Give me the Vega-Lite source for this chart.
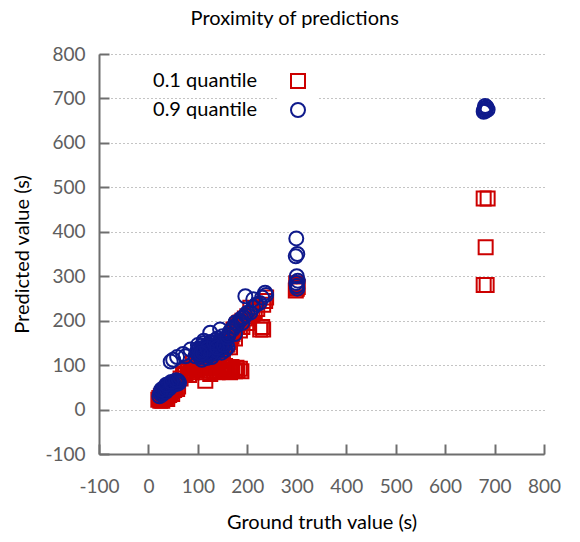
{
  "$schema": "https://vega.github.io/schema/vega-lite/v6.json",
  "autosize": "none",
  "width": 445,
  "height": 400,
  "padding": {"left": 99, "top": 54, "right": 36, "bottom": 88},
  "title": {"text": "Proximity of predictions", "anchor": "middle", "frame": "bounds", "fontSize": 20, "fontWeight": "normal", "color": "#000000", "offset": 16, "dx": 8},
  "config": {
    "font": "Lato",
    "view": {"stroke": null},
    "axis": {
      "domainColor": "#6e6e6e", "domainWidth": 2,
      "tickColor": "#6e6e6e", "tickWidth": 2, "tickSize": -10,
      "labelColor": "#5e5e5e", "labelFontSize": 19, "labelOverlap": false, "labelFlush": false,
      "labelExpr": "'' + datum.value",
      "titleColor": "#000000", "titleFontSize": 20, "titleFontWeight": "normal"
    }
  },
  "data": {"values": [
    {"truth":20,"pred":22,"series":"0.1 quantile"},{"truth":22,"pred":26,"series":"0.1 quantile"},{"truth":24,"pred":20,"series":"0.1 quantile"},{"truth":25,"pred":30,"series":"0.1 quantile"},{"truth":27,"pred":24,"series":"0.1 quantile"},{"truth":28,"pred":32,"series":"0.1 quantile"},{"truth":30,"pred":27,"series":"0.1 quantile"},{"truth":30,"pred":35,"series":"0.1 quantile"},{"truth":32,"pred":30,"series":"0.1 quantile"},{"truth":33,"pred":38,"series":"0.1 quantile"},{"truth":35,"pred":26,"series":"0.1 quantile"},{"truth":35,"pred":33,"series":"0.1 quantile"},{"truth":37,"pred":40,"series":"0.1 quantile"},{"truth":38,"pred":30,"series":"0.1 quantile"},{"truth":40,"pred":36,"series":"0.1 quantile"},{"truth":40,"pred":44,"series":"0.1 quantile"},{"truth":42,"pred":33,"series":"0.1 quantile"},{"truth":43,"pred":40,"series":"0.1 quantile"},{"truth":45,"pred":38,"series":"0.1 quantile"},{"truth":45,"pred":46,"series":"0.1 quantile"},{"truth":48,"pred":42,"series":"0.1 quantile"},{"truth":50,"pred":48,"series":"0.1 quantile"},{"truth":52,"pred":44,"series":"0.1 quantile"},{"truth":55,"pred":50,"series":"0.1 quantile"},{"truth":58,"pred":46,"series":"0.1 quantile"},{"truth":60,"pred":52,"series":"0.1 quantile"},{"truth":28,"pred":20,"series":"0.1 quantile"},{"truth":38,"pred":24,"series":"0.1 quantile"},{"truth":48,"pred":35,"series":"0.1 quantile"},
    {"truth":65,"pred":70,"series":"0.1 quantile"},{"truth":70,"pred":78,"series":"0.1 quantile"},{"truth":72,"pred":85,"series":"0.1 quantile"},{"truth":75,"pred":80,"series":"0.1 quantile"},{"truth":80,"pred":88,"series":"0.1 quantile"},{"truth":82,"pred":78,"series":"0.1 quantile"},{"truth":85,"pred":92,"series":"0.1 quantile"},{"truth":88,"pred":84,"series":"0.1 quantile"},{"truth":90,"pred":96,"series":"0.1 quantile"},{"truth":92,"pred":88,"series":"0.1 quantile"},{"truth":95,"pred":100,"series":"0.1 quantile"},{"truth":98,"pred":90,"series":"0.1 quantile"},{"truth":100,"pred":95,"series":"0.1 quantile"},{"truth":102,"pred":104,"series":"0.1 quantile"},{"truth":105,"pred":88,"series":"0.1 quantile"},{"truth":108,"pred":98,"series":"0.1 quantile"},{"truth":110,"pred":92,"series":"0.1 quantile"},{"truth":112,"pred":106,"series":"0.1 quantile"},{"truth":115,"pred":65,"series":"0.1 quantile"},{"truth":118,"pred":96,"series":"0.1 quantile"},{"truth":120,"pred":102,"series":"0.1 quantile"},{"truth":122,"pred":88,"series":"0.1 quantile"},{"truth":125,"pred":108,"series":"0.1 quantile"},{"truth":128,"pred":94,"series":"0.1 quantile"},{"truth":130,"pred":100,"series":"0.1 quantile"},{"truth":133,"pred":86,"series":"0.1 quantile"},{"truth":135,"pred":104,"series":"0.1 quantile"},{"truth":138,"pred":92,"series":"0.1 quantile"},{"truth":140,"pred":98,"series":"0.1 quantile"},{"truth":143,"pred":108,"series":"0.1 quantile"},{"truth":145,"pred":88,"series":"0.1 quantile"},{"truth":148,"pred":96,"series":"0.1 quantile"},{"truth":150,"pred":102,"series":"0.1 quantile"},{"truth":153,"pred":90,"series":"0.1 quantile"},{"truth":155,"pred":98,"series":"0.1 quantile"},{"truth":158,"pred":86,"series":"0.1 quantile"},{"truth":160,"pred":94,"series":"0.1 quantile"},{"truth":163,"pred":88,"series":"0.1 quantile"},{"truth":165,"pred":84,"series":"0.1 quantile"},{"truth":168,"pred":96,"series":"0.1 quantile"},{"truth":170,"pred":90,"series":"0.1 quantile"},{"truth":175,"pred":86,"series":"0.1 quantile"},{"truth":178,"pred":94,"series":"0.1 quantile"},{"truth":180,"pred":88,"series":"0.1 quantile"},{"truth":185,"pred":92,"series":"0.1 quantile"},{"truth":188,"pred":86,"series":"0.1 quantile"},{"truth":130,"pred":112,"series":"0.1 quantile"},{"truth":115,"pred":110,"series":"0.1 quantile"},{"truth":100,"pred":112,"series":"0.1 quantile"},{"truth":90,"pred":105,"series":"0.1 quantile"},{"truth":150,"pred":112,"series":"0.1 quantile"},{"truth":110,"pred":84,"series":"0.1 quantile"},{"truth":125,"pred":80,"series":"0.1 quantile"},{"truth":140,"pred":84,"series":"0.1 quantile"},
    {"truth":140,"pred":120,"series":"0.1 quantile"},{"truth":145,"pred":128,"series":"0.1 quantile"},{"truth":150,"pred":132,"series":"0.1 quantile"},{"truth":155,"pred":140,"series":"0.1 quantile"},{"truth":160,"pred":146,"series":"0.1 quantile"},{"truth":162,"pred":152,"series":"0.1 quantile"},{"truth":165,"pred":158,"series":"0.1 quantile"},{"truth":168,"pred":164,"series":"0.1 quantile"},{"truth":170,"pred":170,"series":"0.1 quantile"},{"truth":172,"pred":180,"series":"0.1 quantile"},{"truth":175,"pred":176,"series":"0.1 quantile"},{"truth":178,"pred":186,"series":"0.1 quantile"},{"truth":180,"pred":190,"series":"0.1 quantile"},{"truth":183,"pred":194,"series":"0.1 quantile"},{"truth":186,"pred":196,"series":"0.1 quantile"},{"truth":190,"pred":200,"series":"0.1 quantile"},{"truth":195,"pred":205,"series":"0.1 quantile"},{"truth":200,"pred":210,"series":"0.1 quantile"},{"truth":206,"pred":229,"series":"0.1 quantile"},{"truth":210,"pred":215,"series":"0.1 quantile"},{"truth":215,"pred":222,"series":"0.1 quantile"},{"truth":220,"pred":226,"series":"0.1 quantile"},{"truth":226,"pred":180,"series":"0.1 quantile"},{"truth":230,"pred":186,"series":"0.1 quantile"},{"truth":232,"pred":236,"series":"0.1 quantile"},{"truth":236,"pred":244,"series":"0.1 quantile"},{"truth":238,"pred":252,"series":"0.1 quantile"},{"truth":232,"pred":180,"series":"0.1 quantile"},{"truth":200,"pred":195,"series":"0.1 quantile"},{"truth":190,"pred":186,"series":"0.1 quantile"},{"truth":185,"pred":178,"series":"0.1 quantile"},{"truth":175,"pred":160,"series":"0.1 quantile"},{"truth":165,"pred":140,"series":"0.1 quantile"},
    {"truth":298,"pred":268,"series":"0.1 quantile"},{"truth":300,"pred":272,"series":"0.1 quantile"},{"truth":302,"pred":276,"series":"0.1 quantile"},{"truth":300,"pred":280,"series":"0.1 quantile"},{"truth":299,"pred":284,"series":"0.1 quantile"},
    {"truth":678,"pred":475,"series":"0.1 quantile"},{"truth":686,"pred":475,"series":"0.1 quantile"},{"truth":682,"pred":365,"series":"0.1 quantile"},{"truth":678,"pred":280,"series":"0.1 quantile"},{"truth":684,"pred":280,"series":"0.1 quantile"},
    {"truth":22,"pred":30,"series":"0.9 quantile"},{"truth":24,"pred":36,"series":"0.9 quantile"},{"truth":25,"pred":40,"series":"0.9 quantile"},{"truth":27,"pred":33,"series":"0.9 quantile"},{"truth":28,"pred":42,"series":"0.9 quantile"},{"truth":30,"pred":38,"series":"0.9 quantile"},{"truth":30,"pred":46,"series":"0.9 quantile"},{"truth":32,"pred":44,"series":"0.9 quantile"},{"truth":33,"pred":50,"series":"0.9 quantile"},{"truth":35,"pred":40,"series":"0.9 quantile"},{"truth":35,"pred":48,"series":"0.9 quantile"},{"truth":37,"pred":53,"series":"0.9 quantile"},{"truth":38,"pred":45,"series":"0.9 quantile"},{"truth":40,"pred":50,"series":"0.9 quantile"},{"truth":40,"pred":56,"series":"0.9 quantile"},{"truth":42,"pred":47,"series":"0.9 quantile"},{"truth":43,"pred":54,"series":"0.9 quantile"},{"truth":45,"pred":52,"series":"0.9 quantile"},{"truth":45,"pred":58,"series":"0.9 quantile"},{"truth":48,"pred":55,"series":"0.9 quantile"},{"truth":50,"pred":60,"series":"0.9 quantile"},{"truth":52,"pred":56,"series":"0.9 quantile"},{"truth":55,"pred":62,"series":"0.9 quantile"},{"truth":58,"pred":58,"series":"0.9 quantile"},{"truth":60,"pred":64,"series":"0.9 quantile"},{"truth":62,"pred":60,"series":"0.9 quantile"},{"truth":26,"pred":45,"series":"0.9 quantile"},{"truth":36,"pred":56,"series":"0.9 quantile"},{"truth":46,"pred":62,"series":"0.9 quantile"},{"truth":56,"pred":66,"series":"0.9 quantile"},
    {"truth":45,"pred":108,"series":"0.9 quantile"},{"truth":50,"pred":112,"series":"0.9 quantile"},{"truth":58,"pred":118,"series":"0.9 quantile"},{"truth":75,"pred":120,"series":"0.9 quantile"},{"truth":85,"pred":135,"series":"0.9 quantile"},{"truth":70,"pred":125,"series":"0.9 quantile"},
    {"truth":95,"pred":120,"series":"0.9 quantile"},{"truth":98,"pred":130,"series":"0.9 quantile"},{"truth":100,"pred":125,"series":"0.9 quantile"},{"truth":102,"pred":138,"series":"0.9 quantile"},{"truth":105,"pred":118,"series":"0.9 quantile"},{"truth":105,"pred":132,"series":"0.9 quantile"},{"truth":108,"pred":144,"series":"0.9 quantile"},{"truth":110,"pred":124,"series":"0.9 quantile"},{"truth":110,"pred":136,"series":"0.9 quantile"},{"truth":112,"pred":150,"series":"0.9 quantile"},{"truth":115,"pred":128,"series":"0.9 quantile"},{"truth":115,"pred":140,"series":"0.9 quantile"},{"truth":118,"pred":132,"series":"0.9 quantile"},{"truth":120,"pred":146,"series":"0.9 quantile"},{"truth":120,"pred":122,"series":"0.9 quantile"},{"truth":122,"pred":138,"series":"0.9 quantile"},{"truth":125,"pred":130,"series":"0.9 quantile"},{"truth":125,"pred":152,"series":"0.9 quantile"},{"truth":128,"pred":142,"series":"0.9 quantile"},{"truth":130,"pred":134,"series":"0.9 quantile"},{"truth":130,"pred":148,"series":"0.9 quantile"},{"truth":132,"pred":126,"series":"0.9 quantile"},{"truth":135,"pred":140,"series":"0.9 quantile"},{"truth":135,"pred":156,"series":"0.9 quantile"},{"truth":138,"pred":132,"series":"0.9 quantile"},{"truth":140,"pred":146,"series":"0.9 quantile"},{"truth":142,"pred":138,"series":"0.9 quantile"},{"truth":145,"pred":152,"series":"0.9 quantile"},{"truth":148,"pred":128,"series":"0.9 quantile"},{"truth":150,"pred":142,"series":"0.9 quantile"},{"truth":152,"pred":158,"series":"0.9 quantile"},{"truth":155,"pred":134,"series":"0.9 quantile"},{"truth":158,"pred":148,"series":"0.9 quantile"},{"truth":160,"pred":140,"series":"0.9 quantile"},{"truth":108,"pred":112,"series":"0.9 quantile"},{"truth":118,"pred":116,"series":"0.9 quantile"},{"truth":128,"pred":118,"series":"0.9 quantile"},{"truth":140,"pred":160,"series":"0.9 quantile"},{"truth":150,"pred":165,"series":"0.9 quantile"},{"truth":100,"pred":145,"series":"0.9 quantile"},{"truth":112,"pred":155,"series":"0.9 quantile"},
    {"truth":103,"pred":128,"series":"0.9 quantile"},{"truth":107,"pred":135,"series":"0.9 quantile"},{"truth":113,"pred":131,"series":"0.9 quantile"},{"truth":117,"pred":143,"series":"0.9 quantile"},{"truth":121,"pred":129,"series":"0.9 quantile"},{"truth":124,"pred":141,"series":"0.9 quantile"},{"truth":127,"pred":135,"series":"0.9 quantile"},{"truth":131,"pred":141,"series":"0.9 quantile"},{"truth":134,"pred":133,"series":"0.9 quantile"},{"truth":137,"pred":145,"series":"0.9 quantile"},{"truth":141,"pred":131,"series":"0.9 quantile"},{"truth":144,"pred":142,"series":"0.9 quantile"},{"truth":147,"pred":137,"series":"0.9 quantile"},{"truth":111,"pred":128,"series":"0.9 quantile"},{"truth":119,"pred":137,"series":"0.9 quantile"},{"truth":126,"pred":124,"series":"0.9 quantile"},{"truth":133,"pred":150,"series":"0.9 quantile"},{"truth":139,"pred":139,"series":"0.9 quantile"},{"truth":153,"pred":145,"series":"0.9 quantile"},{"truth":106,"pred":126,"series":"0.9 quantile"},
    {"truth":162,"pred":168,"series":"0.9 quantile"},{"truth":165,"pred":176,"series":"0.9 quantile"},{"truth":170,"pred":180,"series":"0.9 quantile"},{"truth":172,"pred":186,"series":"0.9 quantile"},{"truth":176,"pred":196,"series":"0.9 quantile"},{"truth":180,"pred":192,"series":"0.9 quantile"},{"truth":185,"pred":200,"series":"0.9 quantile"},{"truth":188,"pred":205,"series":"0.9 quantile"},{"truth":192,"pred":207,"series":"0.9 quantile"},{"truth":196,"pred":212,"series":"0.9 quantile"},{"truth":200,"pred":218,"series":"0.9 quantile"},{"truth":206,"pred":218,"series":"0.9 quantile"},{"truth":212,"pred":230,"series":"0.9 quantile"},{"truth":218,"pred":236,"series":"0.9 quantile"},{"truth":225,"pred":240,"series":"0.9 quantile"},{"truth":196,"pred":255,"series":"0.9 quantile"},{"truth":212,"pred":248,"series":"0.9 quantile"},{"truth":230,"pred":252,"series":"0.9 quantile"},{"truth":236,"pred":263,"series":"0.9 quantile"},{"truth":238,"pred":258,"series":"0.9 quantile"},{"truth":145,"pred":180,"series":"0.9 quantile"},{"truth":125,"pred":173,"series":"0.9 quantile"},{"truth":160,"pred":162,"series":"0.9 quantile"},{"truth":175,"pred":170,"series":"0.9 quantile"},{"truth":190,"pred":195,"series":"0.9 quantile"},
    {"truth":299,"pred":385,"series":"0.9 quantile"},{"truth":301,"pred":350,"series":"0.9 quantile"},{"truth":298,"pred":345,"series":"0.9 quantile"},{"truth":300,"pred":300,"series":"0.9 quantile"},{"truth":302,"pred":290,"series":"0.9 quantile"},{"truth":299,"pred":285,"series":"0.9 quantile"},{"truth":300,"pred":278,"series":"0.9 quantile"},{"truth":301,"pred":272,"series":"0.9 quantile"},
    {"truth":678,"pred":670,"series":"0.9 quantile"},{"truth":682,"pred":672,"series":"0.9 quantile"},{"truth":686,"pred":675,"series":"0.9 quantile"},{"truth":680,"pred":678,"series":"0.9 quantile"},{"truth":684,"pred":680,"series":"0.9 quantile"},{"truth":681,"pred":683,"series":"0.9 quantile"},{"truth":679,"pred":674,"series":"0.9 quantile"}
  ]},
  "mark": {"type": "point", "filled": false, "size": 196, "strokeWidth": 2, "opacity": 1},
  "encoding": {
    "x": {"field": "truth", "type": "quantitative",
      "scale": {"domain": [-100, 800], "nice": false, "zero": false},
      "axis": {"values": [-100,0,100,200,300,400,500,600,700,800], "grid": false, "title": "Ground truth value (s)", "labelPadding": 33, "titlePadding": 16}},
    "y": {"field": "pred", "type": "quantitative",
      "scale": {"domain": [-100, 800], "nice": false, "zero": false},
      "axis": {"values": [-100,0,100,200,300,400,500,600,700,800], "grid": true, "gridDash": [1, 3], "gridColor": "#888888", "gridWidth": 1, "title": "Predicted value (s)", "labelPadding": 24, "titlePadding": 12}},
    "color": {"field": "series", "type": "nominal",
      "scale": {"domain": ["0.1 quantile", "0.9 quantile"], "range": ["#cc0000", "#0f1a8c"]},
      "legend": {"title": null, "orient": "none", "legendX": 179, "legendY": 7, "direction": "vertical",
        "labelAlign": "right", "labelOffset": -51, "labelFontSize": 20, "labelColor": "#000000",
        "symbolSize": 196, "symbolStrokeWidth": 2, "symbolType": "square", "rowPadding": 7,
        "fillColor": "#ffffff", "padding": 10, "labelLimit": 300}},
    "shape": {"field": "series", "type": "nominal",
      "scale": {"domain": ["0.1 quantile", "0.9 quantile"], "range": ["square", "circle"]},
      "legend": null},
    "order": {"field": "series", "type": "nominal"}
  }
}
